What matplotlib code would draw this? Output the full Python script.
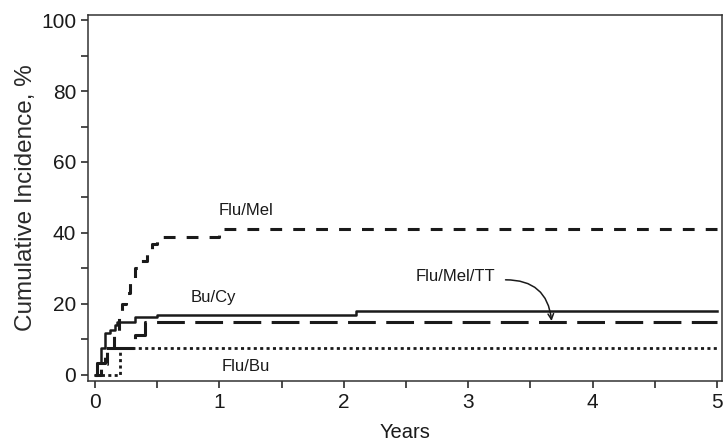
import matplotlib
matplotlib.use('Agg')
from matplotlib import pyplot as plt
from matplotlib.ticker import MultipleLocator

plt.rcParams['font.family'] = ['Liberation Sans', 'DejaVu Sans']
plt.rcParams['lines.scale_dashes'] = False

# cumulative incidence curves (years, %)
bucy_x = [0, 0.02, 0.05, 0.08, 0.12, 0.16, 0.18, 0.32, 0.5, 2.1, 5.0]
bucy_y = [0, 3.5, 7.5, 11.8, 12.7, 14, 15, 16.4, 16.9, 18, 18]

flumel_x = [0, 0.05, 0.1, 0.15, 0.19, 0.22, 0.25, 0.28, 0.32, 0.36, 0.42, 0.46, 0.5, 1.0, 5.0]
flumel_y = [0, 3, 8, 12, 16, 20, 23, 27, 30, 32, 35, 37, 39, 41, 41]

flumeltt_x = [0, 0.02, 0.08, 0.32, 0.4, 5.0]
flumeltt_y = [0, 3.5, 7.5, 11.3, 15, 15]

flubu_x = [0, 0.2, 5.0]
flubu_y = [0, 7.5, 7.5]

col = '#1a1a1a'
fig = plt.figure(figsize=(7.25, 4.43), dpi=100)
ax = fig.add_axes([0.1214, 0.14, 0.8745, 0.826])

ax.step(flubu_x, flubu_y, where='post', color=col, lw=2, dashes=(2.2, 2.4), dash_capstyle='butt')
ax.step(flumel_x, flumel_y, where='post', color=col, lw=2.2, dashes=(8.5, 8))
ax.step(flumeltt_x, flumeltt_y, where='post', color=col, lw=2.2, dashes=(20, 7.5))
ax.step(bucy_x, bucy_y, where='post', color=col, lw=1.8)

ax.text(1.21, 46.2, 'Flu/Mel', fontsize=12, ha='center', va='center', color=col)
ax.text(0.955, 21.7, 'Bu/Cy', fontsize=12, ha='center', va='center', color=col)
ax.text(1.21, 2.5, 'Flu/Bu', fontsize=12, ha='center', va='center', color=col)
ax.text(3.22, 27.6, 'Flu/Mel/TT', fontsize=12, ha='right', va='center', color=col)
ax.annotate('', xy=(3.67, 15.2), xytext=(3.3, 26.8),
            arrowprops=dict(arrowstyle='->', color=col, lw=1.1,
                            connectionstyle='arc3,rad=-0.45',
                            shrinkA=0, shrinkB=0))

ax.set_xlim(-0.056, 5.04)
ax.set_ylim(-1.7, 101.4)
ax.xaxis.set_major_locator(MultipleLocator(1))
ax.xaxis.set_minor_locator(MultipleLocator(0.5))
ax.yaxis.set_major_locator(MultipleLocator(20))
ax.yaxis.set_minor_locator(MultipleLocator(10))
ax.tick_params(which='both', direction='out', length=5, width=1.1, colors=col, labelsize=15)
for s in ax.spines.values():
    s.set_linewidth(1.1)
    s.set_color('#333333')

ax.set_xlabel('Years', fontsize=14.5, color=col, labelpad=8)
ax.set_ylabel('Cumulative Incidence, %', fontsize=17.5, color='#2a2a2a', labelpad=3)

plt.savefig('out.png', dpi=100)
